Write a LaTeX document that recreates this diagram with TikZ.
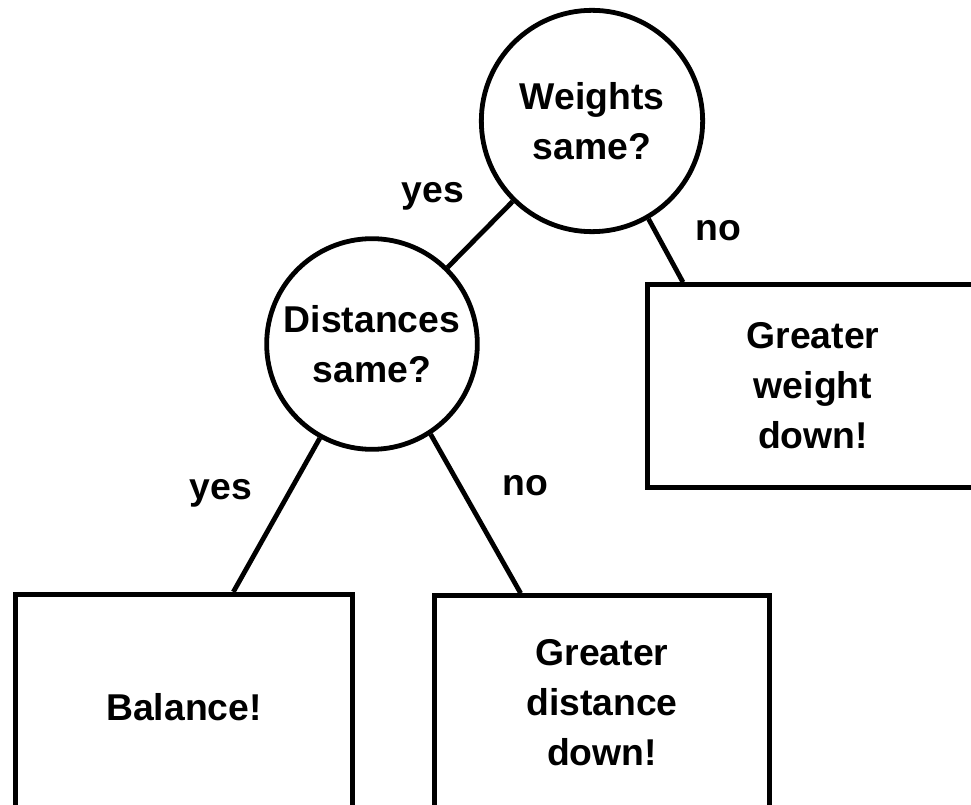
\documentclass[tikz,border=0pt]{standalone}
\usepackage{fontspec}
\setmainfont{Liberation Sans}
\tikzset{%
quest/.style={draw,circle,line width=3.6pt,align=center,inner sep=0pt,
              font=\bfseries\fontsize{28}{37.5}\selectfont},
answer/.style={draw,rectangle,line width=3.6pt,align=center,inner sep=0pt,
               font=\bfseries\fontsize{28}{37.5}\selectfont},
branch/.style={line width=3.6pt},
lbl/.style={font=\bfseries\fontsize{28}{37.5}\selectfont}
}

\begin{document}
\begin{tikzpicture}[x=0.75pt,y=-0.75pt]
\useasboundingbox (0,0) rectangle (971,805);
\clip (0,0) rectangle (971,805);
%%
\node[quest,minimum size=166pt] (WeightsQ) at (592,121) {Weights\\same?};
\node[quest,minimum size=158pt] (DistQ)    at (372,344) {Distances\\same?};
%%
\node[answer,minimum width=248pt,minimum height=152pt] (WeightDown) at (813,386) {Greater\\weight\\down!};
\node[answer,minimum width=253pt,minimum height=169pt] (Balance)    at (184,707) {Balance!};
\node[answer,minimum width=251pt,minimum height=161pt] (DistDown)   at (602,703) {Greater\\distance\\down!};
%%
\node[lbl] (yesW) at (433,196) {yes};
\node[lbl] (noW)  at (718,231) {no};
\node[lbl] (yesD) at (221,493) {yes};
\node[lbl] (noD)  at (525,486) {no};
%%%%%%%%%%%%%%
\draw[branch] (WeightsQ) -- (DistQ);
\draw[branch] (WeightsQ.-60) -- ([xshift=-97.5pt]WeightDown.north);
%
\draw[branch] (DistQ.241) -- ([xshift=37pt]Balance.north);
\draw[branch] (DistQ.-57) -- ([xshift=-61pt]DistDown.north);
\end{tikzpicture}
\end{document}
